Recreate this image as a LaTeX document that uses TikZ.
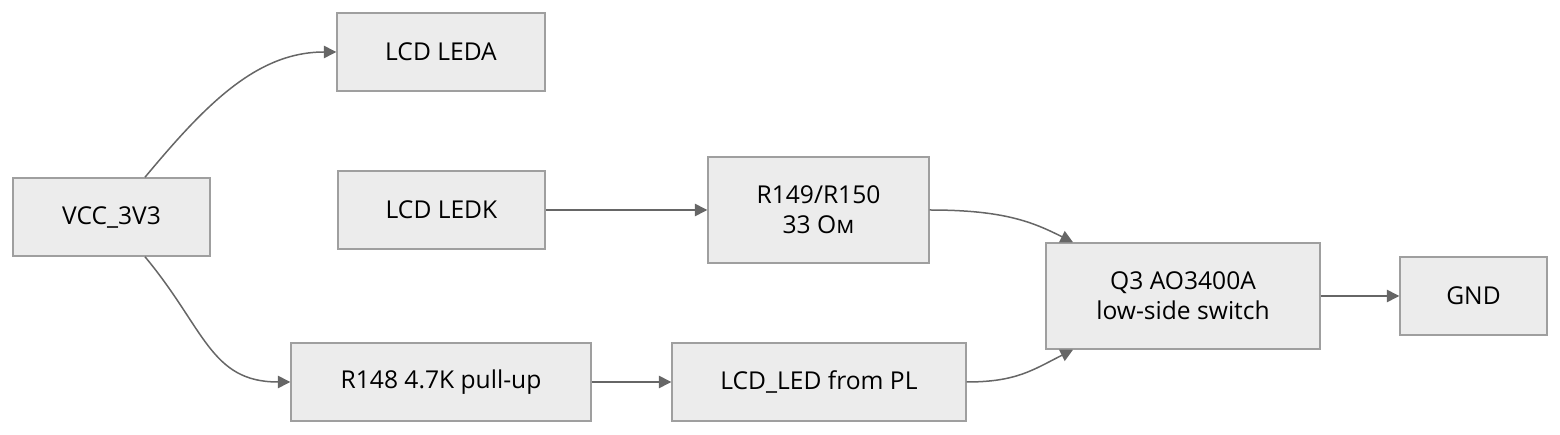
\documentclass[tikz,border=0pt]{standalone}
\usepackage{fontspec}
\setmainfont{Open Sans}
\usetikzlibrary{arrows.meta}
\definecolor{boxfill}{HTML}{ECECEC}
\definecolor{boxline}{HTML}{9F9F9F}
\definecolor{linkline}{HTML}{666666}
\tikzset{
  block/.style={draw=boxline, fill=boxfill, line width=0.03cm, inner sep=0pt,
    align=center, font=\fontsize{14}{17}\selectfont},
  link/.style={draw=linkline, line width=0.03cm,
    -{Triangle[length=0.25cm,width=0.25cm]}},
}
\begin{document}
\begin{tikzpicture}[x=0.02cm,y=-0.02cm]
            \useasboundingbox (0,0) rectangle (1560,435);
            {
            
            % Marking block VCC
            \node [block, minimum width=3.94cm, minimum height=1.56cm] (vcc) at (111.5,217) {VCC\_3V3};%
            
            % Marking block LEDA
            \node [block, minimum width=4.16cm, minimum height=1.56cm] (leda) at (441,52) {LCD LEDA};%
            
            % Marking block LEDK
            \node [block, minimum width=4.14cm, minimum height=1.56cm] (ledk) at (441.5,210) {LCD LEDK};%
            
            % Marking block R149/R150
            \node [block, minimum width=4.42cm, minimum height=2.12cm] (rled) at (818.5,210) {R149/R150\\33 Ом};%
            
            % Marking block Q3
            \node [block, minimum width=5.48cm, minimum height=2.12cm] (qsw) at (1183,296) {Q3 AO3400A\\low-side switch};%
            
            % Marking block GND
            \node [block, minimum width=2.94cm, minimum height=1.56cm] (gnd) at (1473.5,296) {GND};%
            
            % Marking block R148
            \node [block, minimum width=6.00cm, minimum height=1.56cm] (rpull) at (441,382) {R148 4.7K pull-up};%
            
            % Marking block LCD_LED
            \node [block, minimum width=5.88cm, minimum height=1.56cm] (ledpl) at (819,382) {LCD\_LED from PL};%
            
            % Drawing link VCC LEDA
            \draw [link] ([xshift=0.67cm]vcc.north) .. controls +(60,-72) and +(-80,0) .. (leda.west);%
            
            % Drawing link VCC R148
            \draw [link] ([xshift=0.67cm]vcc.south) .. controls +(60,72) and +(-80,0) .. (rpull.west);%
            
            % Drawing link LEDK R149/R150
            \draw [link] (ledk.east) -- (rled.west);%
            
            % Drawing link R149/R150 Q3
            \draw [link] (rled.east) .. controls +(75,0) and +(-40,-20) .. ([xshift=-2.2cm]qsw.north);%
            
            % Drawing link R148 LCD_LED
            \draw [link] (rpull.east) -- (ledpl.west);%
            
            % Drawing link LCD_LED Q3
            \draw [link] (ledpl.east) .. controls +(50,0) and +(-40,20) .. ([xshift=-2.2cm]qsw.south);%
            
            % Drawing link Q3 GND
            \draw [link] (qsw.east) -- (gnd.west);%
            }
        \end{tikzpicture}
\end{document}
